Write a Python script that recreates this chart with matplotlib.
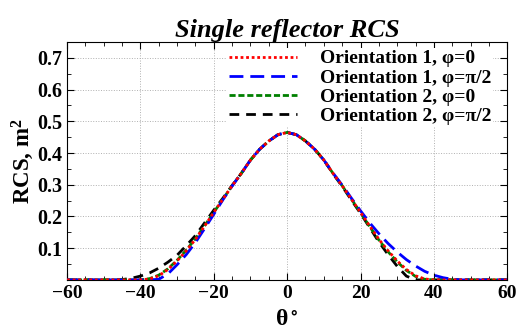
import numpy as np
import matplotlib
matplotlib.use('Agg')
import matplotlib.pyplot as plt
from matplotlib.ticker import MultipleLocator

plt.rcParams['font.family'] = ['Liberation Serif', 'DejaVu Serif']
plt.rcParams['font.weight'] = 'bold'
plt.rcParams['mathtext.default'] = 'regular'

# angle grid (degrees)
theta = np.arange(-60, 60.1, 2.5)

# Orientation 1, phi=0 (and core of all curves)
rcs_o1_p0 = [0, 0, 0, 0, 0, 0, 0, 0, 0, 0.003, 0.013, 0.033, 0.060, 0.092, 0.128, 0.170,
             0.213, 0.255, 0.297, 0.336, 0.378, 0.412, 0.438, 0.458, 0.465,
             0.458, 0.438, 0.412, 0.378, 0.336, 0.297, 0.255, 0.213, 0.170, 0.128,
             0.092, 0.060, 0.033, 0.013, 0.003, 0, 0, 0, 0, 0, 0, 0, 0, 0]
# Orientation 1, phi=pi/2
rcs_o1_p90 = [0, 0, 0, 0, 0, 0, 0, 0, 0, 0, 0.002, 0.019, 0.048, 0.080, 0.118, 0.162,
              0.207, 0.253, 0.296, 0.336, 0.378, 0.412, 0.438, 0.458, 0.465,
              0.458, 0.438, 0.412, 0.378, 0.337, 0.299, 0.258, 0.218, 0.180, 0.146,
              0.115, 0.088, 0.064, 0.044, 0.027, 0.015, 0.007, 0.002, 0, 0, 0, 0, 0, 0]
# Orientation 2, phi=0
rcs_o2_p0 = [0, 0, 0, 0, 0, 0, 0, 0, 0, 0.004, 0.015, 0.035, 0.062, 0.094, 0.130, 0.171,
             0.213, 0.255, 0.297, 0.336, 0.378, 0.412, 0.438, 0.458, 0.465,
             0.458, 0.438, 0.412, 0.378, 0.336, 0.297, 0.255, 0.212, 0.168, 0.126,
             0.089, 0.057, 0.030, 0.011, 0.002, 0, 0, 0, 0, 0, 0, 0, 0, 0]
# Orientation 2, phi=pi/2
rcs_o2_p90 = [0, 0, 0, 0, 0, 0, 0.001, 0.005, 0.012, 0.022, 0.037, 0.056, 0.078, 0.108, 0.140, 0.180,
              0.220, 0.258, 0.298, 0.336, 0.378, 0.412, 0.438, 0.458, 0.465,
              0.458, 0.438, 0.412, 0.378, 0.335, 0.295, 0.252, 0.210, 0.165, 0.120,
              0.080, 0.043, 0.012, 0, 0, 0, 0, 0, 0, 0, 0, 0, 0, 0]

labels = ['Orientation 1, φ=0', 'Orientation 1, φ=π/2',
          'Orientation 2, φ=0', 'Orientation 2, φ=π/2']

fig = plt.figure(figsize=(5.16, 3.34), dpi=100)
ax = fig.add_axes([0.130, 0.162, 0.853, 0.712])

ax.plot(theta, rcs_o1_p0, color='red', linestyle=(0, (1, 1)), lw=2, label=labels[0], zorder=6)
ax.plot(theta, rcs_o1_p90, color='blue', linestyle=(0, (5, 2.5)), lw=2, label=labels[1], zorder=5)
ax.plot(theta, rcs_o2_p0, color='green', linestyle=(0, (2.2, 1)), lw=2, label=labels[2], zorder=4)
ax.plot(theta, rcs_o2_p90, color='black', linestyle=(0, (3.5, 2.5)), lw=2, label=labels[3], zorder=3)

ax.set_xlim(-60, 60)
ax.set_ylim(0, 0.75)
ax.xaxis.set_major_locator(MultipleLocator(20))
ax.xaxis.set_minor_locator(MultipleLocator(5))
ax.set_yticks([0.1, 0.2, 0.3, 0.4, 0.5, 0.6, 0.7])
ax.yaxis.set_minor_locator(MultipleLocator(0.05))
ax.tick_params(which='both', direction='in', top=True, right=True, labelsize=14.5)
ax.tick_params(axis='x', labelsize=14)
ax.tick_params(which='major', length=5)
ax.tick_params(which='minor', length=3)
ax.grid(True, which='major', color='#b0b0b0', linestyle=':', linewidth=0.7)
for lab in ax.get_xticklabels() + ax.get_yticklabels():
    lab.set_fontweight('bold')

ax.set_title('Single reflector RCS', fontsize=19, fontweight='bold', style='italic', pad=4)
ax.set_xlabel('θ$^\\circ$', fontsize=17, fontweight='bold', labelpad=5)
ax.set_ylabel('RCS, m$^2$', fontsize=16.5, fontweight='bold', labelpad=1)

leg = ax.legend(loc='upper right', bbox_to_anchor=(0.982, 1.0), frameon=True,
                handlelength=3.5, borderaxespad=0.3, labelspacing=0.08,
                handletextpad=1.2, borderpad=0.1, prop={'weight': 'bold', 'size': 14})
leg.get_frame().set_edgecolor('none')
leg.get_frame().set_facecolor('white')
leg.get_frame().set_alpha(1)

fig.savefig('out.png', dpi=100)
